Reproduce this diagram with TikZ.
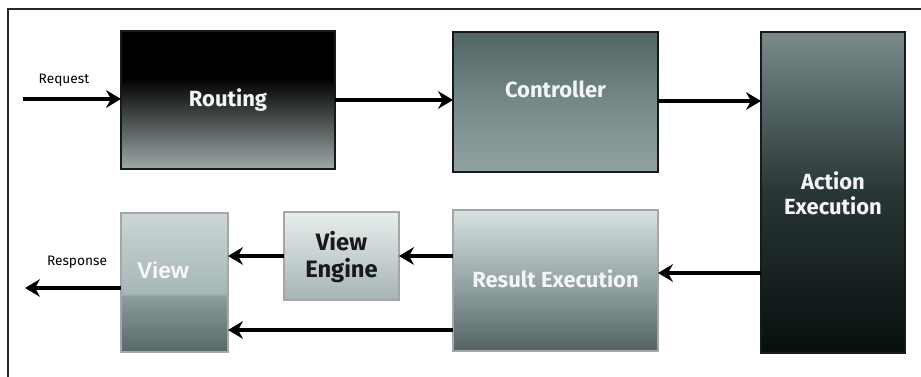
\documentclass[tikz,border=0pt]{standalone}
\usepackage{fontspec}
\setmainfont{Fira Sans}
\newfontfamily\arialfont{Liberation Sans}
\usetikzlibrary{arrows.meta,calc}
\pgfdeclareverticalshading{routingsh}{100bp}{color(0bp)=(rgb,255:red,158;green,170;blue,170); color(25bp)=(rgb,255:red,158;green,170;blue,170); color(58bp)=(black); color(100bp)=(black)}
\pgfdeclareverticalshading{controllersh}{100bp}{color(0bp)=(rgb,255:red,146;green,162;blue,162); color(25bp)=(rgb,255:red,146;green,162;blue,162); color(50bp)=(rgb,255:red,118;green,136;blue,136); color(75bp)=(rgb,255:red,80;green,100;blue,100); color(100bp)=(rgb,255:red,80;green,100;blue,100)}
\pgfdeclareverticalshading{actionsh}{100bp}{color(0bp)=(rgb,255:red,8;green,14;blue,14); color(25bp)=(rgb,255:red,8;green,14;blue,14); color(50bp)=(rgb,255:red,40;green,54;blue,54); color(75bp)=(rgb,255:red,122;green,138;blue,138); color(100bp)=(rgb,255:red,122;green,138;blue,138)}
\pgfdeclareverticalshading{resultsh}{100bp}{color(0bp)=(rgb,255:red,84;green,100;blue,100); color(25bp)=(rgb,255:red,84;green,100;blue,100); color(50bp)=(rgb,255:red,150;green,166;blue,166); color(75bp)=(rgb,255:red,216;green,226;blue,226); color(100bp)=(rgb,255:red,216;green,226;blue,226)}
\pgfdeclareverticalshading{enginesh}{100bp}{color(0bp)=(rgb,255:red,166;green,180;blue,180); color(25bp)=(rgb,255:red,166;green,180;blue,180); color(75bp)=(rgb,255:red,232;green,238;blue,238); color(100bp)=(rgb,255:red,232;green,238;blue,238)}
\pgfdeclareverticalshading{viewsh}{100bp}{color(0bp)=(rgb,255:red,88;green,104;blue,104); color(25bp)=(rgb,255:red,88;green,104;blue,104); color(45bp)=(rgb,255:red,140;green,156;blue,156); color(46bp)=(rgb,255:red,166;green,182;blue,182); color(75bp)=(rgb,255:red,204;green,214;blue,214); color(100bp)=(rgb,255:red,204;green,214;blue,214)}
\tikzset{
  box/.style={rectangle, inner sep=0pt, outer sep=0pt},
  darkbox/.style={box, draw=black!90, line width=1.6pt},
  lightbox/.style={box, draw=gray!70, line width=1pt},
  btext/.style={font=\bfseries\fontsize{12.5}{14}\selectfont, align=center, text=white!92!gray},
  small/.style={font=\fontsize{7.8}{9}\selectfont, text=black},
  arr/.style={line width=1.8pt, -{Stealth[length=8.5pt,width=10pt]}},
}
\begin{document}
\begin{tikzpicture}[x=0.02cm,y=-0.02cm]
\useasboundingbox (0,0) rectangle (921,377);
\draw[line width=0.8pt, black!85] (8,377) -- (8,9) -- (921,9);
% boxes
\node[darkbox, shading=routingsh, minimum width=4.28cm, minimum height=2.76cm] (routing) at (228,100) {};
\node[darkbox, shading=controllersh, minimum width=4.1cm, minimum height=2.8cm] (controller) at (555.5,102) {};
\node[darkbox, shading=actionsh, minimum width=2.88cm, minimum height=6.42cm] (action) at (833,192.5) {};
\node[lightbox, shading=resultsh, minimum width=4.1cm, minimum height=2.82cm] (result) at (555.5,280.5) {};
\node[lightbox, shading=enginesh, minimum width=2.3cm, minimum height=1.76cm] (engine) at (341.5,256) {};
\node[lightbox, shading=viewsh, minimum width=2.14cm, minimum height=2.78cm] (view) at (174.5,282.5) {};
% texts
\node[btext] (troute) at (routing.center) {Routing};
\node[btext] (tcontr) at (555.5,89) {Controller};
\node[btext] (taction) at (833,193) {Action\\Execution};
\node[btext] (tresult) at (555.5,279) {Result Execution};
\node[btext, text=black!90, font=\bfseries\fontsize{13.5}{15}\selectfont] (tengine) at (341.5,257) {View\\Engine};
\node[font=\arialfont\bfseries\fontsize{13}{15}\selectfont, text=white!95!gray] (tview) at (163,270) {View};
\node[small] (treq) at (64,80) {Request};
\node[small] (tresp) at (77,262) {Response};
% connectors
\coordinate (reqstart) at (23,99);
\coordinate (respend) at (25,288);
\coordinate (ca) at ($(controller.east)+(0,-1)$);
\coordinate (ar) at ($(result.east)+(0,-7.5)$);
\coordinate (rv) at ($(result.west)+(0,49.5)$);
\draw[arr] (reqstart) -- (reqstart -| routing.west);
\draw[arr] (routing.east) -- (routing.east -| controller.west);
\draw[arr] (ca) -- (ca -| action.west);
\draw[arr] (ar -| action.west) -- (ar);
\draw[arr] (result.west |- engine.east) -- (engine.east);
\draw[arr] (engine.west) -- (engine.west -| view.east);
\draw[arr] (rv) -- (rv -| view.east);
\draw[arr] (respend -| view.west) -- (respend);
\end{tikzpicture}
\end{document}
